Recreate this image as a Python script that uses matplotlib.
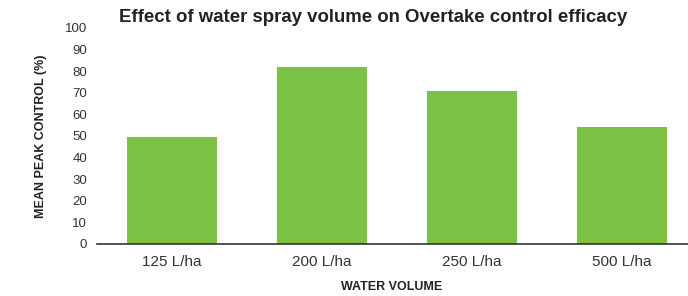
import numpy as np
import matplotlib.pyplot as plt

plt.rcParams['font.family'] = ['Liberation Sans', 'DejaVu Sans']

volumes = ['125 L/ha', '200 L/ha', '250 L/ha', '500 L/ha']
peak_control = [49.5, 82, 71, 54]
y_ticks = [0, 10, 20, 30, 40, 50, 60, 70, 80, 90, 100]

fig = plt.figure(figsize=(6.88, 2.96), dpi=100)
ax = fig.add_axes([97/688, 52/296, 591/688, 216/296])

x = np.arange(len(volumes))
ax.bar(x, peak_control, width=0.6, color='#7BC143')

ax.set_xlim(-0.5, 3.44)
ax.set_ylim(0, 100)
ax.set_yticks(y_ticks)
ax.set_xticks(x)
ax.set_xticklabels(volumes, fontsize=11, color='#333333')
ax.tick_params(axis='y', labelsize=9.5, colors='#333333', length=0, pad=7)
ax.tick_params(axis='x', length=0, pad=8)

for s in ['top', 'right', 'left']:
    ax.spines[s].set_visible(False)
ax.spines['bottom'].set_color('#333333')
ax.spines['bottom'].set_linewidth(1.2)

ax.set_ylabel('MEAN PEAK CONTROL (%)', fontsize=9, fontweight='bold', color='#222222', labelpad=13)
fig.text(392/688, 1 - 287/296, 'WATER VOLUME', ha='center', va='center',
         fontsize=9, fontweight='bold', color='#222222')

fig.text(373/688, 1 - 18/296, 'Effect of water spray volume on Overtake control efficacy',
         ha='center', va='center', fontsize=13.4, fontweight='bold', color='#222222')

fig.savefig('out.png', dpi=100)
